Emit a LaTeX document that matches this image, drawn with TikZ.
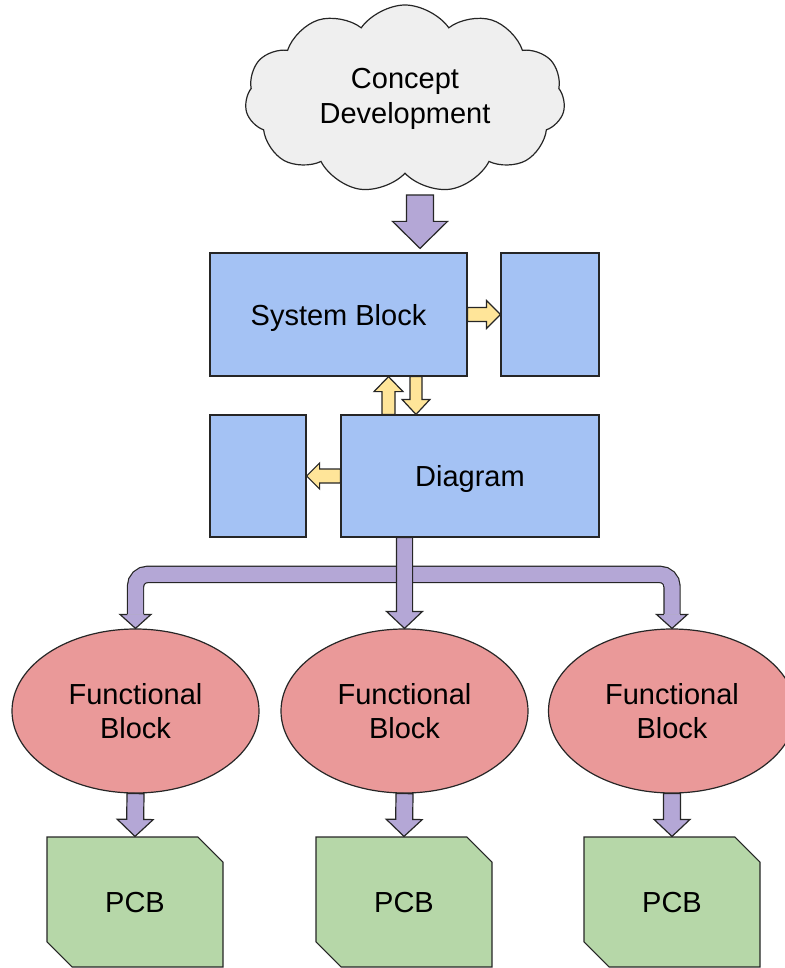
\documentclass[tikz,border=0pt]{standalone}
\usepackage{fontspec}
\setmainfont{Liberation Sans}
\usetikzlibrary{calc,shapes.geometric,shapes.symbols,shapes.misc}

\definecolor{boxblue}{HTML}{A4C2F4}
\definecolor{fbred}{HTML}{EA9999}
\definecolor{pcbgreen}{HTML}{B6D7A8}
\definecolor{flowpurple}{HTML}{B4A7D6}
\definecolor{busyellow}{HTML}{FFE599}
\definecolor{cloudgray}{HTML}{EFEFEF}
\definecolor{linegray}{HTML}{262626}

\tikzset{
  every node/.style={font=\fontsize{29pt}{34.5pt}\selectfont, align=center, inner sep=0pt},
  outline/.style={draw=linegray, line width=1.2pt},
  block/.style={outline, fill=boxblue, rectangle, minimum height=123pt, text depth=0pt},
  cloudbox/.style={outline, fill=cloudgray, cloud, cloud puffs=11, cloud puff arc=110,
    cloud ignores aspect, minimum width=320pt, minimum height=188pt},
  funcblock/.style={outline, fill=fbred, ellipse, minimum width=247pt, minimum height=164pt},
  pcbbox/.style={outline, fill=pcbgreen, chamfered rectangle,
    chamfered rectangle corners={north east,south west}, chamfered rectangle sep=15pt,
    minimum width=176pt, minimum height=130pt, text depth=0pt},
  bus/.style={draw=linegray, line width=1.2pt, double=flowpurple, double distance=15pt,
    rounded corners=12pt}
}

% base, tip, half shaft, half head, fill
\newcommand{\fathead}[5]{%
  \filldraw[outline, fill=#5]
    ($(#1)!#3!90:(#2)$) -- ($(#1)!#4!90:(#2)$) -- (#2)
    -- ($(#1)!#4!-90:(#2)$) -- ($(#1)!#3!-90:(#2)$);}

% start, tip, half shaft, half head, head length, fill
\newcommand{\fatarrow}[6]{%
  \coordinate (hb) at ($(#2)!#5!(#1)$);
  \filldraw[outline, fill=#6]
    ($(#1)!#3!90:(#2)$) -- ($(hb)!#3!90:(#2)$) -- ($(hb)!#4!90:(#2)$) -- (#2)
    -- ($(hb)!#4!-90:(#2)$) -- ($(hb)!#3!-90:(#2)$) -- ($(#1)!#3!-90:(#2)$) -- cycle;}

\begin{document}
\begin{tikzpicture}[x=1pt,y=-1pt]
\useasboundingbox (0,0) rectangle (784,968);

\node[cloudbox] (concept) at (405,99) {Concept\\Development};

\node[block, minimum width=257pt] (sys) at (338.5,314.5) {System Block};
\node[block, minimum width=98pt] (sysout) at (550,314.5) {};
\node[block, minimum width=258pt, minimum height=122pt] (diagram) at (470,476) {Diagram};
\node[block, minimum width=96pt, minimum height=122pt] (diagout) at (258,476) {};

\node[funcblock] (fb1) at (135.5,711) {Functional\\Block};
\node[funcblock] (fb2) at (404.5,711) {Functional\\Block};
\node[funcblock] (fb3) at (672,711) {Functional\\Block};

\node[pcbbox] (pcb1) at (135,902) {PCB};
\node[pcbbox] (pcb2) at (404,902) {PCB};
\node[pcbbox] (pcb3) at (672,902) {PCB};

% concept to system block
\coordinate (cdtip) at ($(sys.north -| 420,0)+(0,-4)$);
\coordinate (cdfoot) at (420,195);
\fatarrow{cdfoot}{cdtip}{13.5pt}{27.5pt}{27pt}{flowpurple}

% yellow links
\fatarrow{sys.east}{sysout.west}{7pt}{14pt}{14pt}{busyellow}
\fatarrow{diagram.north -| 388.5,0}{sys.south -| 388.5,0}{6.5pt}{14.5pt}{15pt}{busyellow}
\fatarrow{sys.south -| 416,0}{diagram.north -| 416,0}{6pt}{14pt}{15pt}{busyellow}
\fatarrow{diagram.west}{diagout.east}{7pt}{13pt}{13pt}{busyellow}

% split to the functional blocks
\coordinate (b1) at ([yshift=14pt]fb1.north);
\coordinate (b3) at ([yshift=14pt]fb3.north);
\draw[bus] (b1) |- ($(fb3.north)+(0,-54)$) -- (b3);
\fathead{b1}{fb1.north}{8.1pt}{15.5pt}{flowpurple}
\fathead{b3}{fb3.north}{8.1pt}{15.5pt}{flowpurple}
\fatarrow{diagram.south -| fb2.north}{fb2.north}{8.1pt}{18pt}{17pt}{flowpurple}

\fatarrow{fb1.south}{pcb1.north}{8.5pt}{18pt}{17pt}{flowpurple}
\fatarrow{fb2.south}{pcb2.north}{8.5pt}{18pt}{17pt}{flowpurple}
\fatarrow{fb3.south}{pcb3.north}{8.5pt}{18pt}{17pt}{flowpurple}
\end{tikzpicture}
\end{document}
